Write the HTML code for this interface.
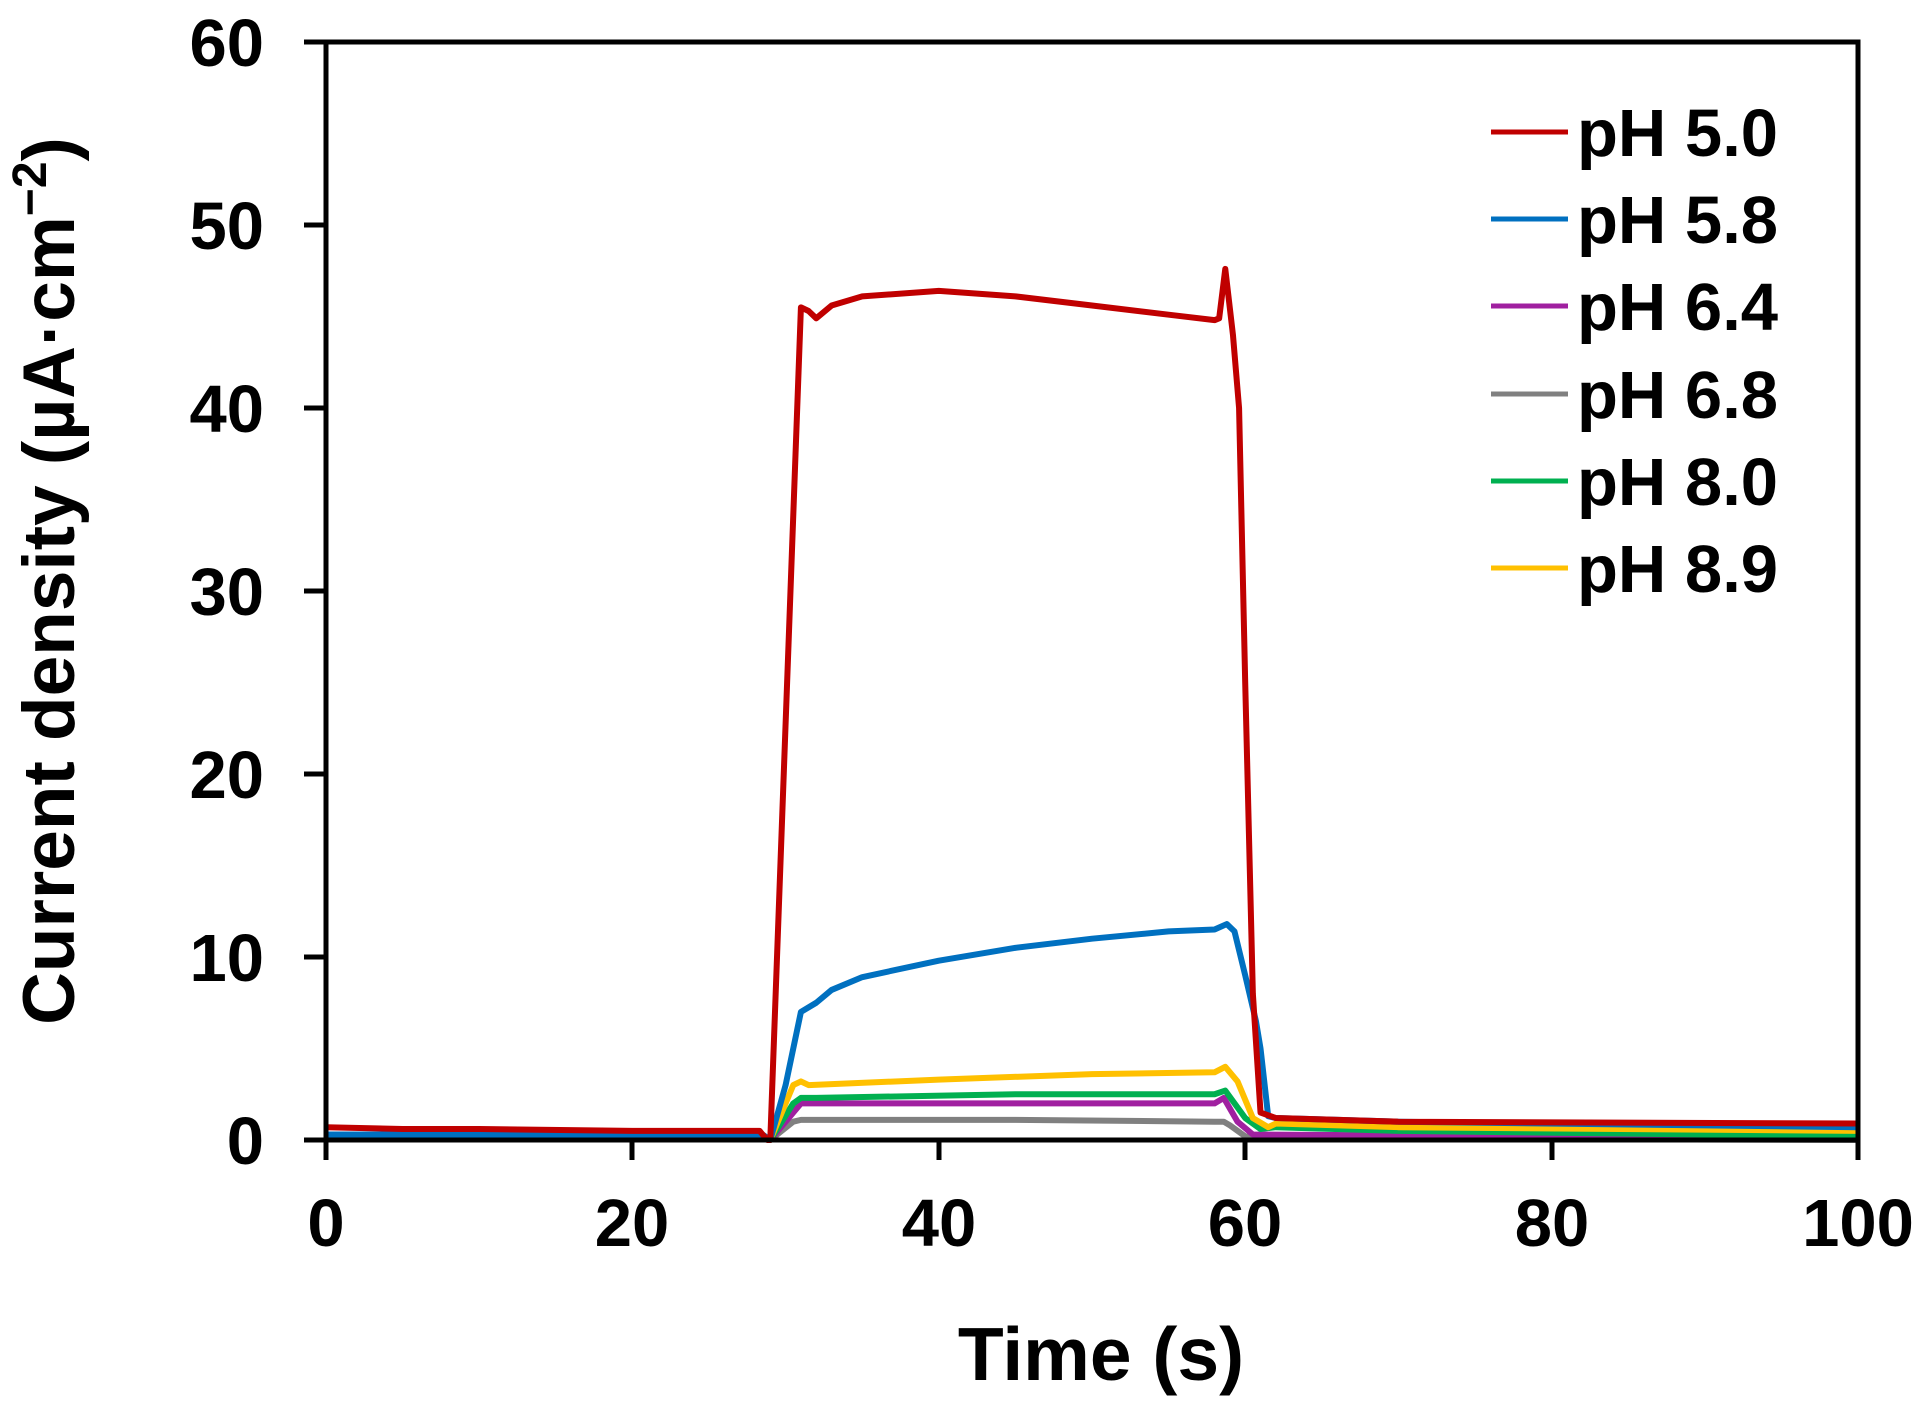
<!DOCTYPE html>
<html><head><meta charset="utf-8"><style>
html,body{margin:0;padding:0;background:#fff;}
svg{display:block;}
text{font-family:"Liberation Sans",Arial,sans-serif;font-weight:bold;fill:#000;}
</style></head><body>
<svg width="1929" height="1413" viewBox="0 0 1929 1413" xmlns="http://www.w3.org/2000/svg">
<g transform="translate(326,1140) scale(15.32,-18.3)" fill="none" stroke-width="6" stroke-linejoin="round">
<polyline vector-effect="non-scaling-stroke" stroke="#808080" points="0,0.1 28.5,0.1 29,0 30.5,1.0 31,1.1 45,1.1 58,1.0 58.6,1.0 59,0.8 60,0.2 62,0.1 100,0.0"/>
<polyline vector-effect="non-scaling-stroke" stroke="#A020A0" points="0,0.1 28.5,0.1 29,0 30.5,1.5 31,2.0 40,2.0 55,2.0 58,2.0 58.6,2.3 59.5,1.0 60.5,0.3 100,0.1"/>
<polyline vector-effect="non-scaling-stroke" stroke="#00B050" points="0,0.1 28.5,0.1 29,0 30.5,2.0 31,2.3 32,2.3 45,2.5 58,2.5 58.7,2.7 60,1.2 61,0.6 62,0.7 70,0.5 100,0.2"/>
<polyline vector-effect="non-scaling-stroke" stroke="#FFC000" points="0,0.1 28.5,0.1 29,0 30.5,3.0 31,3.2 31.5,3.0 40,3.3 50,3.6 58,3.7 58.7,4.0 59.5,3.2 60.5,1.2 61.5,0.7 62,0.9 70,0.7 100,0.5"/>
<polyline vector-effect="non-scaling-stroke" stroke="#0070C0" points="0,0.3 28.5,0.3 29,0 30,3 31,7.0 32,7.5 33,8.2 35,8.9 40,9.8 45,10.5 50,11.0 55,11.4 58,11.5 58.8,11.8 59.3,11.4 60,9 60.7,6.5 61,5 61.5,1.3 62,1.2 70,1.0 100,0.7"/>
<polyline vector-effect="non-scaling-stroke" stroke="#C00000" points="0,0.7 5,0.6 10,0.6 20,0.5 28.3,0.5 28.8,0 29,0 31,45.5 31.5,45.3 32,44.9 33,45.6 35,46.1 40,46.4 45,46.1 50,45.6 55,45.1 58,44.8 58.3,44.9 58.7,47.6 59.2,44 59.6,40 60,25 60.5,8 61,1.5 62,1.2 70,1.0 100,0.9"/>
</g>
<g stroke="#000" stroke-width="5" fill="none">
<rect x="326" y="42" width="1532" height="1098"/>
<line x1="304" y1="42" x2="326" y2="42"/>
<line x1="304" y1="225" x2="326" y2="225"/>
<line x1="304" y1="408" x2="326" y2="408"/>
<line x1="304" y1="591" x2="326" y2="591"/>
<line x1="304" y1="774" x2="326" y2="774"/>
<line x1="304" y1="957" x2="326" y2="957"/>
<line x1="304" y1="1140" x2="326" y2="1140"/>
<line x1="326" y1="1140" x2="326" y2="1160"/>
<line x1="632" y1="1140" x2="632" y2="1160"/>
<line x1="939" y1="1140" x2="939" y2="1160"/>
<line x1="1245" y1="1140" x2="1245" y2="1160"/>
<line x1="1552" y1="1140" x2="1552" y2="1160"/>
<line x1="1858" y1="1140" x2="1858" y2="1160"/>
</g>
<g font-size="67" text-anchor="end">
<text x="264" y="66">60</text>
<text x="264" y="249">50</text>
<text x="264" y="432">40</text>
<text x="264" y="615">30</text>
<text x="264" y="798">20</text>
<text x="264" y="981">10</text>
<text x="264" y="1164">0</text>
</g>
<g font-size="67" text-anchor="middle">
<text x="326" y="1246">0</text>
<text x="632" y="1246">20</text>
<text x="939" y="1246">40</text>
<text x="1245" y="1246">60</text>
<text x="1552" y="1246">80</text>
<text x="1858" y="1246">100</text>
</g>
<text x="1101" y="1380" font-size="75" text-anchor="middle">Time (s)</text>
<text transform="translate(74,581) rotate(-90)" font-size="73" text-anchor="middle">Current density (µA·cm<tspan font-size="48" dy="-28">−2</tspan><tspan dy="28">)</tspan></text>
<g stroke-width="5">
<line x1="1491" y1="132" x2="1568" y2="132" stroke="#C00000"/>
<line x1="1491" y1="219" x2="1568" y2="219" stroke="#0070C0"/>
<line x1="1491" y1="306" x2="1568" y2="306" stroke="#A020A0"/>
<line x1="1491" y1="394" x2="1568" y2="394" stroke="#808080"/>
<line x1="1491" y1="481" x2="1568" y2="481" stroke="#00B050"/>
<line x1="1491" y1="568" x2="1568" y2="568" stroke="#FFC000"/>
</g>
<g font-size="67">
<text x="1577" y="156">pH 5.0</text>
<text x="1577" y="243">pH 5.8</text>
<text x="1577" y="330">pH 6.4</text>
<text x="1577" y="418">pH 6.8</text>
<text x="1577" y="505">pH 8.0</text>
<text x="1577" y="592">pH 8.9</text>
</g>
</svg>
</body></html>
